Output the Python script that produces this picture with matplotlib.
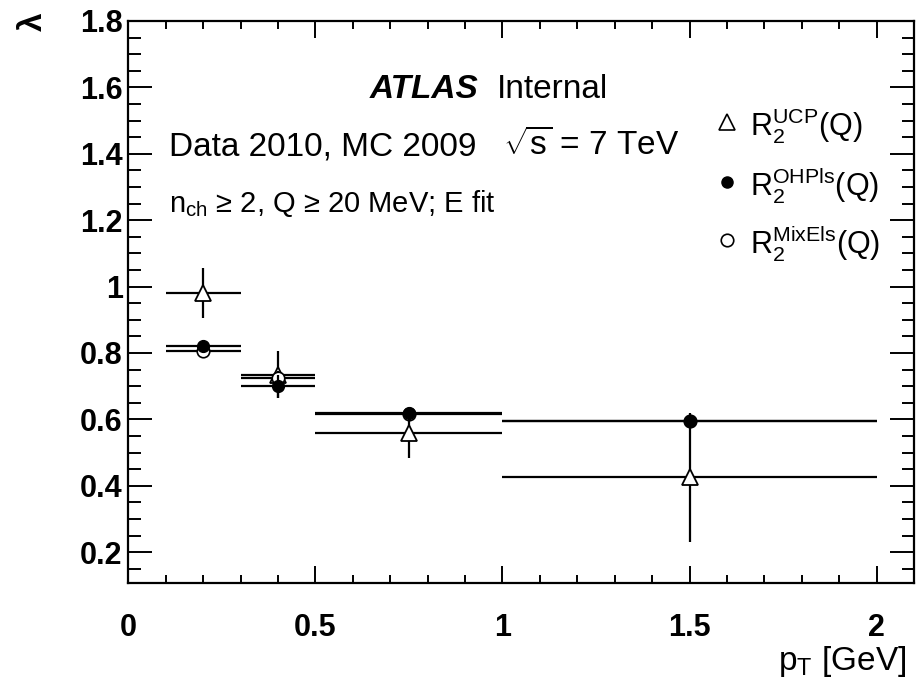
import matplotlib
matplotlib.use("Agg")
import matplotlib.pyplot as plt
from matplotlib.ticker import MultipleLocator

plt.rcParams['font.family'] = ['Liberation Sans', 'DejaVu Sans']
plt.rcParams['mathtext.fontset'] = 'custom'
plt.rcParams['mathtext.rm'] = 'Liberation Sans'
plt.rcParams['mathtext.it'] = 'Liberation Sans:italic'
plt.rcParams['mathtext.bf'] = 'Liberation Sans:bold'

# pT bins (centre, half width)
pt = [0.2, 0.4, 0.75, 1.5]
pt_err = [0.1, 0.1, 0.25, 0.5]

# lambda values per method
ucp = [0.98, 0.735, 0.56, 0.425]
ucp_err = [0.075, 0.07, 0.075, 0.195]
ohp = [0.82, 0.70, 0.62, 0.595]
ohp_err = [0.01, 0.035, 0.01, 0.012]
mix = [0.805, 0.725, 0.615, 0.595]
mix_err = [0.01, 0.02, 0.01, 0.012]

W, H = 918, 685
fig = plt.figure(figsize=(W / 100, H / 100), dpi=100)
ax = fig.add_axes([128.3 / W, 1 - 582.7 / H, (914 - 128.3) / W, (582.7 - 21) / H])

lw = 1.6
ax.errorbar(pt, ucp, xerr=pt_err, yerr=ucp_err, fmt='^', ms=12, mfc='white',
            mec='black', mew=1.3, ecolor='black', elinewidth=lw, capsize=0, zorder=3)
ax.errorbar(pt, mix, xerr=pt_err, yerr=mix_err, fmt='o', ms=9, mfc='white',
            mec='black', mew=1.2, ecolor='black', elinewidth=lw, capsize=0, zorder=4)
ax.errorbar(pt, ohp, xerr=pt_err, yerr=ohp_err, fmt='o', ms=8.5, mfc='black',
            mec='black', ecolor='black', elinewidth=lw, capsize=0, zorder=5)

ax.set_xlim(0, 2.1)
ax.set_ylim(0.108, 1.8)
ax.xaxis.set_major_locator(MultipleLocator(0.5))
ax.xaxis.set_minor_locator(MultipleLocator(0.1))
ax.yaxis.set_major_locator(MultipleLocator(0.2))
ax.yaxis.set_minor_locator(MultipleLocator(0.05))
ax.set_xticks([0, 0.5, 1, 1.5, 2])
ax.set_xticklabels(['0', '0.5', '1', '1.5', '2'])
ax.set_yticks([0.2, 0.4, 0.6, 0.8, 1.0, 1.2, 1.4, 1.6, 1.8])
ax.set_yticklabels(['0.2', '0.4', '0.6', '0.8', '1', '1.2', '1.4', '1.6', '1.8'])

ax.tick_params(axis='both', which='both', direction='in', top=True, right=True,
               width=1.4, labelsize=22)
ax.tick_params(axis='x', which='major', length=12, pad=22)
ax.tick_params(axis='x', which='minor', length=6)
ax.tick_params(axis='y', which='major', length=17, pad=4)
ax.tick_params(axis='y', which='minor', length=9)
for lab in ax.get_xticklabels() + ax.get_yticklabels():
    lab.set_fontweight('bold')
for sp in ax.spines.values():
    sp.set_linewidth(1.6)


def fx(px):
    return px / W


def fy(py):
    return 1 - py / H


fig.text(fx(18), fy(12), 'λ', rotation=90, fontsize=24, fontweight='bold',
         ha='left', va='top')
fig.text(fx(906), fy(670), r'$\mathregular{p_{T}}$ [GeV]', fontsize=24,
         ha='right', va='baseline')

fig.text(fx(370), fy(98), 'ATLAS', fontsize=24, fontweight='bold',
         fontstyle='italic', va='baseline')
fig.text(fx(497), fy(98), 'Internal', fontsize=24, va='baseline')
fig.text(fx(169), fy(155), 'Data 2010, MC 2009', fontsize=24, va='baseline')
fig.text(fx(503), fy(155), r'$\mathregular{\sqrt{s}}$ = 7 TeV', fontsize=24,
         va='baseline')
fig.text(fx(169), fy(212), r'$\mathregular{n_{ch}}$ ≥ 2, Q ≥ 20 MeV; E fit',
         fontsize=21, va='baseline')

# legend
leg_labels = [r'$\mathregular{R_2^{UCP}(Q)}$', r'$\mathregular{R_2^{OHPls}(Q)}$',
              r'$\mathregular{R_2^{MixEls}(Q)}$']
leg_y = [122, 182, 240]
leg_mk = [dict(marker='^', ms=11, mfc='white', mec='black', mew=1.2),
          dict(marker='o', ms=8, mfc='black', mec='black'),
          dict(marker='o', ms=9, mfc='white', mec='black', mew=1.2)]
for lab, yy, mk in zip(leg_labels, leg_y, leg_mk):
    fig.lines.append(plt.Line2D([fx(727)], [fy(yy)], transform=fig.transFigure,
                                linestyle='none', **mk))
    fig.text(fx(750), fy(yy + 13), lab, fontsize=22, va='baseline')

fig.savefig('out.png', dpi=100)
